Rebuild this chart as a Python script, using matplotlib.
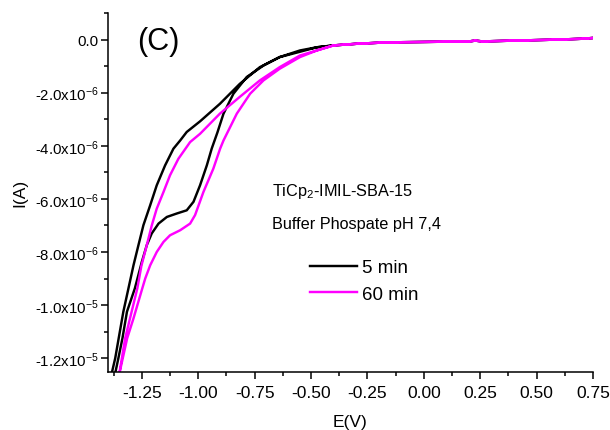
import matplotlib
matplotlib.use("Agg")
import matplotlib.pyplot as plt
from matplotlib.ticker import MultipleLocator, FixedLocator, FixedFormatter
import numpy as np

plt.rcParams['font.family'] = ['Liberation Sans', 'DejaVu Sans']
plt.rcParams['mathtext.default'] = 'regular'

# ---- data (E in V, I in 1e-6 A) ----
# shared flat part near zero current (positive potentials)
e_flat = [0.75, 0.70, 0.60, 0.50, 0.35, 0.26, 0.228, 0.20, 0.10, 0.00, -0.10, -0.20, -0.25, -0.30, -0.35, -0.40]
i_flat = [0.06, 0.03, 0.00, -0.02, -0.05, -0.07, -0.04, -0.07, -0.08, -0.09, -0.10, -0.12, -0.14, -0.16, -0.19, -0.22]

# 5 min: cathodic branch (with shoulder), continuing from -0.40 V toward negative
e5_fwd = [-0.474, -0.549, -0.639, -0.711, -0.785, -0.844, -0.888, -0.915, -0.940, -0.962,
          -0.992, -1.021, -1.051, -1.095, -1.139, -1.176, -1.206, -1.228, -1.250,
          -1.281, -1.316, -1.336, -1.354, -1.365, -1.385]
i5_fwd = [-0.29, -0.46, -0.66, -0.98, -1.41, -2.04, -2.79, -3.50, -4.10, -4.74,
          -5.49, -6.11, -6.43, -6.55, -6.68, -6.93, -7.30, -7.74, -8.37,
          -9.37, -10.25, -11.25, -12.00, -12.44, -13.20]
# 5 min: return branch, from negative limit back up to -0.40 V
e5_rev = [-1.395, -1.380, -1.368, -1.351, -1.332, -1.287, -1.265, -1.243, -1.213,
          -1.184, -1.147, -1.110, -1.080, -1.051, -0.992, -0.904, -0.816, -0.727, -0.639,
          -0.549, -0.474]
i5_rev = [-13.00, -12.44, -12.00, -11.17, -10.25, -8.50, -7.74, -6.99, -6.24,
          -5.49, -4.74, -4.11, -3.80, -3.48, -3.08, -2.42, -1.67, -1.04, -0.66,
          -0.41, -0.29]

# 60 min: cathodic branch (with shoulder)
e60_fwd = [-0.474, -0.549, -0.639, -0.711, -0.770, -0.829, -0.888, -0.903, -0.933, -0.977,
           -1.014, -1.036, -1.080, -1.125, -1.154, -1.184, -1.213, -1.235, -1.248, -1.287,
           -1.315, -1.346, -1.365]
i60_fwd = [-0.41, -0.66, -1.10, -1.54, -2.04, -2.79, -3.80, -4.11, -4.86, -5.74,
           -6.61, -6.93, -7.18, -7.37, -7.62, -8.00, -8.50, -9.00, -9.37, -10.50,
           -11.25, -12.44, -13.20]
# 60 min: return branch
e60_rev = [-1.365, -1.348, -1.324, -1.270, -1.252, -1.228, -1.206, -1.184, -1.154, -1.125,
           -1.088, -1.036, -0.992, -0.904, -0.816, -0.727, -0.639, -0.549, -0.474]
i60_rev = [-13.20, -12.49, -11.25, -9.37, -8.52, -7.74, -7.00, -6.37, -5.74, -5.11,
           -4.49, -3.86, -3.55, -2.79, -2.16, -1.54, -1.04, -0.60, -0.41]

labels = ['5 min', '60 min']
colors = ['black', '#ff00ff']

xticks = [-1.25, -1.00, -0.75, -0.50, -0.25, 0.00, 0.25, 0.50, 0.75]
yticks = [-12e-6, -10e-6, -8e-6, -6e-6, -4e-6, -2e-6, 0.0]
ytick_labels = ['-1.2x10$^{-5}$', '-1.0x10$^{-5}$', '-8.0x10$^{-6}$', '-6.0x10$^{-6}$',
                '-4.0x10$^{-6}$', '-2.0x10$^{-6}$', '0.0']

fig = plt.figure(figsize=(6.10, 4.31), dpi=100)
ax = fig.add_axes([108/610, 1-372.5/431, (593-108)/610, (372.5-14)/431])

for (ef, jf, er, jr), lab, col in zip(
        [(e5_fwd, i5_fwd, e5_rev, i5_rev), (e60_fwd, i60_fwd, e60_rev, i60_rev)],
        labels, colors):
    e = np.array(e_flat + ef + er + e_flat[::-1])
    cur = np.array(i_flat + jf + jr + i_flat[::-1]) * 1e-6
    ax.plot(e, cur, color=col, lw=1.75, label=lab, solid_joinstyle='round')

ax.set_xlim(-1.40, 0.75)
ax.set_ylim(-1.25e-5, 1.0e-6)

ax.xaxis.set_major_locator(FixedLocator(xticks))
ax.set_xticklabels(['%.2f' % t for t in xticks])
ax.xaxis.set_minor_locator(MultipleLocator(0.125))
ax.yaxis.set_major_locator(FixedLocator(yticks))
ax.yaxis.set_major_formatter(FixedFormatter(ytick_labels))
ax.yaxis.set_minor_locator(MultipleLocator(1e-6))

for s in ['top', 'right']:
    ax.spines[s].set_visible(False)
for s in ['left', 'bottom']:
    ax.spines[s].set_linewidth(1.1)

ax.tick_params(axis='both', which='major', direction='out', length=5, width=1.1)
ax.tick_params(axis='both', which='minor', direction='out', length=3, width=1.1)
ax.tick_params(axis='x', labelsize=12.5, pad=5)
ax.tick_params(axis='y', labelsize=10.8, pad=2)

ax.set_xlabel('E(V)', fontsize=12.5, labelpad=10)
ax.set_ylabel('I(A)', fontsize=12.5, labelpad=5)

ax.text(0.06, 0.922, '(C)', transform=ax.transAxes, fontsize=22, va='center', ha='left')
ax.text(0.338, 0.492, 'TiCp$_2$-IMIL-SBA-15', transform=ax.transAxes, fontsize=11.7,
        va='baseline', ha='left')
ax.text(0.338, 0.3995, 'Buffer Phospate pH 7,4', transform=ax.transAxes, fontsize=11.7,
        va='baseline', ha='left')

ax.legend(loc='upper left', bbox_to_anchor=(310/610, 1-260/431), bbox_transform=fig.transFigure,
          frameon=False, fontsize=13.5, handlelength=2.5, handletextpad=0.3,
          borderpad=0, borderaxespad=0, labelspacing=0.5)

fig.savefig('out.png', dpi=100)
